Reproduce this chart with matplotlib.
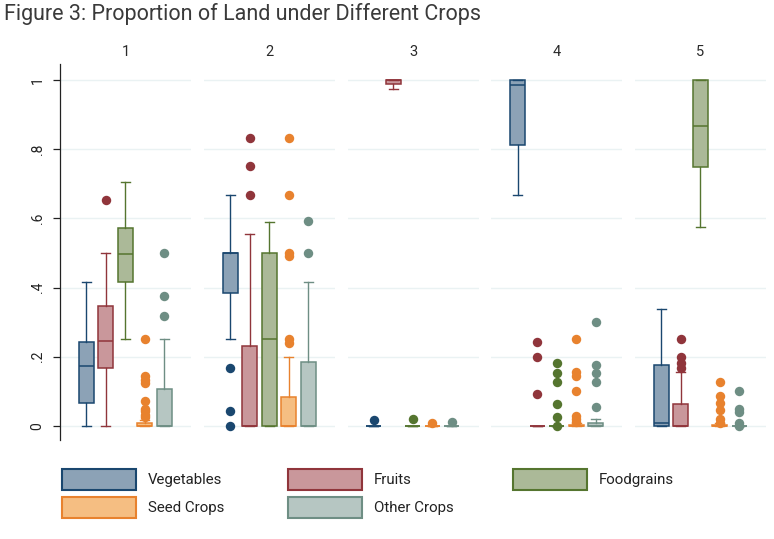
import matplotlib.pyplot as plt
from matplotlib.patches import Rectangle

plt.rcParams['font.family'] = ['Roboto', 'DejaVu Sans']

# crops in the order they appear inside each panel
crops = ["Vegetables", "Fruits", "Foodgrains", "Seed Crops", "Other Crops"]
panels = ["1", "2", "3", "4", "5"]

# box statistics, one row per panel, one column per crop
whisk_lo = [
    [0.0, 0.0, 0.25, 0.0, 0.0],
    [0.25, 0.0, 0.0, 0.0, 0.0],
    [0.0, 0.973, 0.0, 0.0, 0.0],
    [0.667, 0.0, 0.0, 0.0, 0.0],
    [0.0, 0.0, 0.574, 0.0, 0.0],
]
q1 = [
    [0.066, 0.167, 0.415, 0.0, 0.0],
    [0.383, 0.0, 0.0, 0.0, 0.0],
    [0.0, 0.988, 0.0, 0.0, 0.0],
    [0.811, 0.0, 0.0, 0.0, 0.0],
    [0.0, 0.0, 0.748, 0.0, 0.0],
]
med = [
    [0.172, 0.245, 0.496, 0.0, 0.0],
    [0.5, 0.0, 0.25, 0.0, 0.0],
    [0.0, 1.0, 0.0, 0.0, 0.0],
    [0.985, 0.0, 0.0, 0.0, 0.0],
    [0.008, 0.0, 0.866, 0.0, 0.0],
]
q3 = [
    [0.242, 0.346, 0.571, 0.008, 0.106],
    [0.5, 0.23, 0.5, 0.083, 0.184],
    [0.0, 1.0, 0.0, 0.0, 0.0],
    [1.0, 0.0, 0.0, 0.004, 0.008],
    [0.175, 0.063, 1.0, 0.004, 0.0],
]
whisk_hi = [
    [0.417, 0.5, 0.706, 0.016, 0.25],
    [0.667, 0.556, 0.59, 0.2, 0.415],
    [0.0, 1.0, 0.0, 0.0, 0.0],
    [1.0, 0.0, 0.0, 0.008, 0.019],
    [0.337, 0.155, 1.0, 0.008, 0.0],
]
outliers = [
    [[], [0.654], [], [0.25, 0.143, 0.133, 0.125, 0.071, 0.05, 0.042, 0.033, 0.025], [0.5, 0.375, 0.318]],
    [[0.167, 0.043, 0.0], [0.833, 0.75, 0.667], [], [0.833, 0.667, 0.5, 0.49, 0.25, 0.24], [0.592, 0.5]],
    [[0.017], [], [0.019], [0.008], [0.011]],
    [[], [0.244, 0.2, 0.091], [0.181, 0.152, 0.126, 0.064, 0.025, 0.0],
     [0.25, 0.157, 0.143, 0.1, 0.03, 0.02, 0.012], [0.3, 0.177, 0.152, 0.126, 0.055]],
    [[], [0.251, 0.2, 0.181, 0.167], [], [0.126, 0.087, 0.066, 0.046, 0.02, 0.01], [0.1, 0.05, 0.04, 0.01, 0.0]],
]

edge_colors = ["#1a476f", "#90353b", "#55752f", "#e8822e", "#6e8e84"]
face_colors = ["#8ca2b6", "#c9979b", "#abb998", "#f5be82", "#b6c6c2"]

W, H = 774, 539
fig = plt.figure(figsize=(W / 100, H / 100), dpi=100)

fig.text(4 / W, 1 - 14 / H, "Figure 3: Proportion of Land under Different Crops",
         fontsize=15.5, color="#3a3a3a", va="center", ha="left")

panel_w = 131
panel_step = 143.75
ax_bottom = (H - 440) / H
ax_height = 376 / H

for p, name in enumerate(panels):
    left = (60 + p * panel_step) / W
    ax = fig.add_axes([left, ax_bottom, panel_w / W, ax_height])
    for c in range(len(crops)):
        stats = [{
            "whislo": whisk_lo[p][c], "q1": q1[p][c], "med": med[p][c],
            "q3": q3[p][c], "whishi": whisk_hi[p][c], "fliers": outliers[p][c],
        }]
        ec, fc = edge_colors[c], face_colors[c]
        ax.bxp(stats, positions=[c + 1], widths=0.77, capwidths=0.46,
               patch_artist=True, manage_ticks=False,
               boxprops=dict(facecolor=fc, edgecolor=ec, linewidth=1.1),
               medianprops=dict(color=ec, linewidth=1.1),
               whiskerprops=dict(color=ec, linewidth=1.0),
               capprops=dict(color=ec, linewidth=1.0),
               flierprops=dict(marker="o", markerfacecolor=ec, markeredgecolor=ec,
                               markersize=6.8, markeredgewidth=0))
    ax.set_xlim(-0.35, 6.37)
    ax.set_ylim(-0.0405, 1.046)
    ax.set_yticks([0, 0.2, 0.4, 0.6, 0.8, 1.0])
    ax.grid(axis="y", color="#eaf2f3", linewidth=1.0)
    ax.set_axisbelow(True)
    ax.set_xticks([])
    for s in ["top", "right", "bottom"]:
        ax.spines[s].set_visible(False)
    if p == 0:
        ax.spines["left"].set_color("#222222")
        ax.spines["left"].set_linewidth(0.9)
        ax.set_yticklabels(["0", ".2", ".4", ".6", ".8", "1"], rotation=90,
                           va="center", fontsize=10, color="#222222")
        ax.tick_params(axis="y", length=5, width=0.9, color="#222222", pad=6)
    else:
        ax.spines["left"].set_visible(False)
        ax.tick_params(axis="y", length=0, labelleft=False)
    ax.set_title(name, fontsize=10.5, color="#2a2a2a", pad=6)

# legend laid out in two rows like the original
leg = fig.add_axes([0, 0, 1, 1])
leg.set_xlim(0, W)
leg.set_ylim(H, 0)
leg.axis("off")
for i, crop in enumerate(crops):
    row, col = divmod(i, 3)
    x = 62 + col * 225.5
    y = 469 + row * 28
    leg.add_patch(Rectangle((x, y), 74, 21, facecolor=face_colors[i],
                            edgecolor=edge_colors[i], linewidth=1.5))
    leg.text(x + 86, y + 11, crop, fontsize=10.8, color="#222222", va="center", ha="left")

fig.savefig("out.png", dpi=100)
